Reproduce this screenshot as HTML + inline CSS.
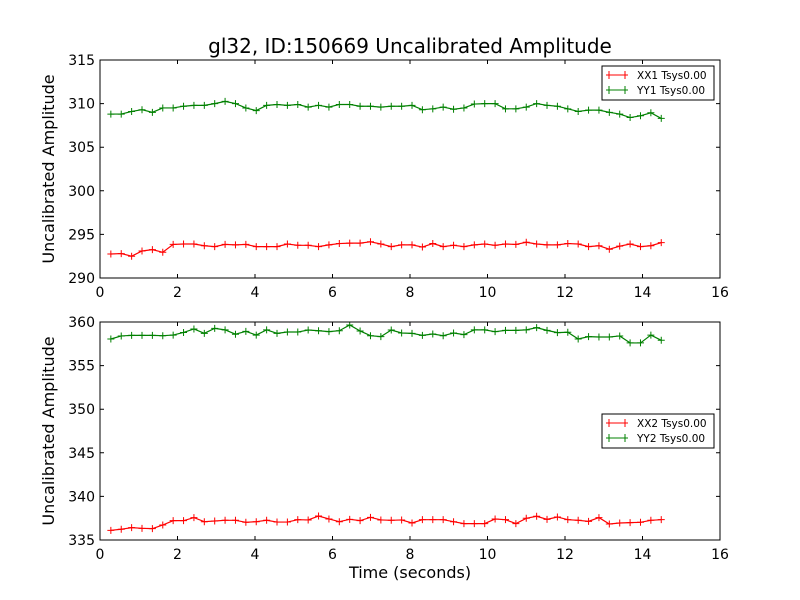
<!DOCTYPE html>
<html><head><meta charset="utf-8">
<style>
body{margin:0;background:#fff;}
svg{display:block;font-family:"DejaVu Sans","Liberation Sans",sans-serif;}
</style></head>
<body>
<svg id="chart" width="800" height="600" xmlns="http://www.w3.org/2000/svg">
<rect width="800" height="600" fill="#fff"/>
<text x="410" y="53" font-size="20" text-anchor="middle">gl32, ID:150669 Uncalibrated Amplitude</text>
<text x="410" y="578" font-size="16" text-anchor="middle">Time (seconds)</text>
</svg>
<script>
const xTicks=[0,2,4,6,8,10,12,14,16];
const topYTicks=[290,295,300,305,310,315];
const botYTicks=[335,340,345,350,355,360];
const nPts=54, t0=0.28, dt=0.268;
const xx1=[292.75,292.8,292.5,293.1,293.25,292.95,293.85,293.9,293.9,293.7,293.6,293.85,293.8,293.85,293.6,293.6,293.6,293.9,293.75,293.75,293.6,293.8,293.95,294.0,294.0,294.15,293.9,293.6,293.8,
293.8,293.55,293.95,293.6,293.75,293.6,293.8,293.9,293.75,293.9,293.85,294.1,293.9,293.8,293.8,293.95,293.9,293.6,293.7,293.3,293.65,293.9,293.6,293.7,294.05];
const yy1=[308.8,308.8,309.1,309.3,309.0,309.5,309.5,309.7,309.8,309.8,310.0,310.25,310.0,309.5,309.2,309.8,309.9,309.8,309.9,309.6,309.8,309.6,309.9,309.9,309.7,309.7,309.6,309.7,309.7,
309.8,309.3,309.4,309.6,309.35,309.5,309.95,310.0,310.0,309.4,309.4,309.6,310.0,309.8,309.7,309.4,309.1,309.25,309.25,309.0,308.8,308.4,308.6,308.95,308.3];
const xx2=[336.11,336.23,336.42,336.34,336.3,336.72,337.22,337.22,337.57,337.1,337.18,337.26,337.26,337.03,337.1,337.26,337.06,337.06,337.33,337.3,337.75,337.41,337.1,337.37,337.22,337.6,337.3,337.26,337.3,
336.95,337.33,337.33,337.33,337.1,336.88,336.88,336.88,337.41,337.33,336.88,337.49,337.72,337.37,337.64,337.33,337.26,337.14,337.57,336.84,336.95,336.99,337.03,337.26,337.33];
const yy2=[358.05,358.4,358.47,358.47,358.47,358.43,358.5,358.8,359.2,358.7,359.27,359.1,358.6,358.93,358.5,359.1,358.7,358.85,358.85,359.08,359.0,358.9,359.0,359.66,358.97,358.43,358.32,359.08,358.74,
358.7,358.47,358.62,358.43,358.74,358.55,359.1,359.1,358.89,359.04,359.04,359.1,359.35,359.04,358.78,358.82,358.05,358.32,358.28,358.28,358.4,357.6,357.6,358.5,357.9];
const times=xx1.map((_,i)=>t0+i*dt);
const svg=document.getElementById('chart');
const NS='http://www.w3.org/2000/svg';
function mk(tag,attrs,parent){const e=document.createElementNS(NS,tag);for(const k in attrs)e.setAttribute(k,attrs[k]);(parent||svg).appendChild(e);return e;}
function panel(top,bottom,yTicks,series,legendY,name){
  const L=100,R=720,ymin=yTicks[0],ymax=yTicks[yTicks.length-1];
  const sx=v=>L+(v-0)/(16-0)*(R-L);
  const sy=v=>bottom-(v-ymin)/(ymax-ymin)*(bottom-top);
  const g=mk('g',{});
  
  
  series.forEach(s=>{
    const sg=mk('g',{},g);
    
    
    const pts=s.data.map((v,i)=>sx(times[i]).toFixed(2)+','+sy(v).toFixed(2)).join(' ');
    const pl=mk('polyline',{points:pts,fill:'none',stroke:s.color,'stroke-width':1.2},sg);
    
    
    s.data.forEach((v,i)=>{
      const x=sx(times[i]),y=sy(v);
      const p=mk('path',{d:`M${x-3.5},${y}H${x+3.5}M${x},${y-3.5}V${y+3.5}`,stroke:s.color,'stroke-width':1},sg);
      
      
    });
  });
  const fr=mk('rect',{x:L,y:top,width:R-L,height:bottom-top,fill:'none',stroke:'#000','stroke-width':1},g);
  
  
  xTicks.forEach(t=>{
    const x=sx(t);
    mk('path',{d:`M${x},${bottom}v-4M${x},${top}v4`,stroke:'#000'},g);
    const tx=mk('text',{x:x,y:bottom+19,'font-size':14,'text-anchor':'middle'},g);
    tx.textContent=t;
    
    
  });
  yTicks.forEach(t=>{
    const y=sy(t);
    mk('path',{d:`M${L},${y}h4M${R},${y}h-4`,stroke:'#000'},g);
    const tx=mk('text',{x:L-5,y:y+5,'font-size':14,'text-anchor':'end'},g);
    tx.textContent=t;
    
    
  });
  const yl=mk('text',{x:0,y:0,'font-size':16,'text-anchor':'middle',transform:`translate(54,${(top+bottom)/2}) rotate(-90)`},g);
  yl.textContent='Uncalibrated Amplitude';
  
  
  const lg=mk('g',{},g);
  
  
  mk('rect',{x:602,y:legendY,width:112,height:34,fill:'#fff',stroke:'#000'},lg);
  series.forEach((s,i)=>{
    const y=legendY+9+i*15;
    const le=mk('g',{},lg);
    
    
    mk('path',{d:`M606,${y}H628M609,${y-4}V${y+4}M625,${y-4}V${y+4}`,stroke:s.color,'stroke-width':1},le);
    const tx=mk('text',{x:637,y:y+4,'font-size':10.5},le);
    tx.textContent=s.label;
  });
}
panel(60,278,topYTicks,[{name:'xx1',data:xx1,color:'#ff0000',label:'XX1 Tsys0.00'},{name:'yy1',data:yy1,color:'#008000',label:'YY1 Tsys0.00'}],66,'top');
panel(322,540,botYTicks,[{name:'xx2',data:xx2,color:'#ff0000',label:'XX2 Tsys0.00'},{name:'yy2',data:yy2,color:'#008000',label:'YY2 Tsys0.00'}],414,'bottom');
</script>
</body></html>
